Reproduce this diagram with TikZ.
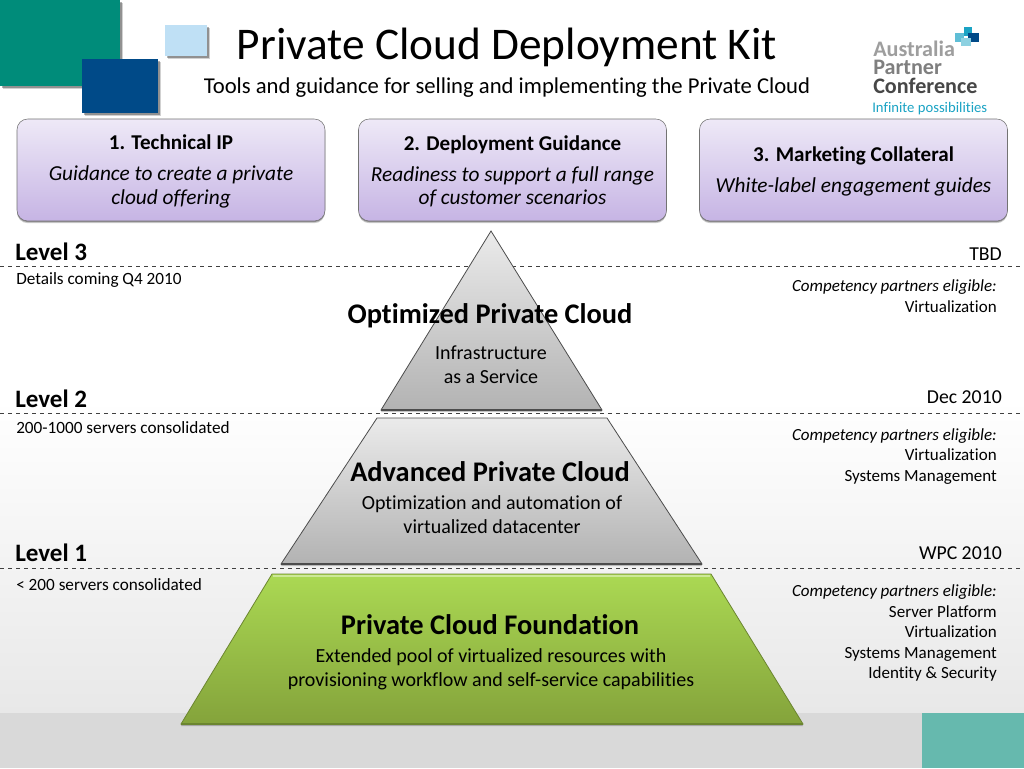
\documentclass[tikz,border=0pt]{standalone}
\usepackage{fontspec}
\setmainfont{Carlito}[Ligatures=NoCommon]
\usepackage{xcolor}
\usetikzlibrary{positioning,shadows}

\definecolor{tealbig}{HTML}{008C7A}
\definecolor{navysq}{HTML}{004A88}
\definecolor{skysq}{HTML}{BFE0F5}
\definecolor{tealcorner}{HTML}{66B9AE}
\definecolor{bandgrey}{HTML}{D9D9D9}
\definecolor{logogrey}{HTML}{7F7F7F}
\definecolor{logoteal}{HTML}{1AA3C4}
\definecolor{boxtop}{HTML}{EEE9F7}
\definecolor{boxbottom}{HTML}{C6B4E4}
\definecolor{greentop}{HTML}{ABD953}
\definecolor{greenbottom}{HTML}{84A33B}
\definecolor{greenedge}{HTML}{6B8530}

\newcommand{\boxhead}[1]{{\fontsize{15.8}{18}\bfseries\rule{0pt}{13pt}#1}\\[6pt]}

\begin{document}
\begin{tikzpicture}[
x=0.75pt, y=-0.75pt,
softshadow/.style={general shadow={shadow xshift=2.2pt, shadow yshift=-2.2pt, opacity=0.18, fill=black}, general shadow={shadow xshift=1.2pt, shadow yshift=-1.2pt, opacity=0.3, fill=black}},
lowshadow/.style={general shadow={shadow yshift=-1.6pt, opacity=0.2, fill=black}, general shadow={shadow yshift=-0.8pt, opacity=0.3, fill=black}},
infobox/.style={draw=black!55, rounded corners=8pt, top color=boxtop, bottom color=boxbottom, lowshadow, align=center, minimum width=231pt, minimum height=76.5pt, inner sep=0pt, font=\fontsize{16}{17.4}\selectfont},
leveltag/.style={anchor=base west, inner sep=0pt, font=\fontsize{18.8}{22}\bfseries\selectfont},
datetag/.style={anchor=base east, inner sep=0pt, font=\fontsize{14.8}{18}\selectfont},
noteleft/.style={anchor=base west, inner sep=0pt, font=\fontsize{12.9}{15}\selectfont},
partners/.style={anchor=north east, inner sep=0pt, align=right, font=\fontsize{12.75}{15.4}\selectfont},
tiername/.style={inner sep=0pt, font=\fontsize{21.3}{25}\bfseries\selectfont},
tierdesc/.style={inner sep=0pt, align=center, font=\fontsize{15}{18}\selectfont},
levelrule/.style={dashed, black!75, line width=0.6pt},
greylayer/.style={draw=black!70, line width=0.6pt, top color=black!8, bottom color=black!30, lowshadow},
greenlayer/.style={draw=greenedge, line width=0.6pt, top color=greentop, bottom color=greenbottom, lowshadow}
]
\useasboundingbox (0,0) rectangle (1024,768);
% background
\fill[white] (0,0) rectangle (1024,768);
\shade[top color=white, bottom color=black!9] (0,400) rectangle (1024,713);
\fill[bandgrey] (0,713) rectangle (1024,768);
\fill[tealcorner] (922,713) rectangle (1024,768);
% corner squares
\fill[tealbig, softshadow] (0,0) rectangle (120,86);
\fill[navysq, softshadow] (82,59) rectangle (158,113);
\fill[skysq, softshadow] (165,25) rectangle (207,56);
% title
\node[inner sep=0pt, font=\fontsize{34}{40}\selectfont] (title) at (507,47) {Private Cloud Deployment Kit};
\node[inner sep=0pt, font=\fontsize{17}{20}\selectfont] (subtitle) at (507,88) {Tools and guidance for selling and implementing the Private Cloud};
% logo
\fill[logoteal!70] (955,33) rectangle (964,42);
\fill[logoteal] (964,27) rectangle (972,36);
\fill[navysq] (968,33) rectangle (979,42);
\fill[logoteal!50] (961,38) rectangle (971,46);
\node[anchor=north west, inner sep=0pt, align=left, font=\fontsize{16.6}{13.9}\bfseries\selectfont] (logoname) at (873,40.5) {\textcolor{black!38}{Australia}\\\textcolor{logogrey}{Partner}\\\textcolor{black!72}{Conference}};
\node[anchor=base west, inner sep=0pt, text=logoteal, font=\fontsize{11}{12}\selectfont] (logotag) at (872,112) {Infinite possibilities};
% top boxes
\node[infobox] (ip) at (171,170) {\boxhead{1. Technical IP}\itshape Guidance to create a private\\\itshape cloud offering};
\node[infobox] (guide) at (512.5,170) {\boxhead{2. Deployment Guidance}\itshape Readiness to support a full range\\\itshape of customer scenarios};
\node[infobox] (collateral) at (853.5,170) {\boxhead{3. Marketing Collateral}\itshape White-label engagement guides};
% level rules
\coordinate (r3a) at (0,266); \coordinate (r3b) at (1024,266);
\coordinate (r2a) at (0,413); \coordinate (r2b) at (1024,413);
\coordinate (r1a) at (0,568); \coordinate (r1b) at (1024,568);
\draw[levelrule] (r3a) -- (r3b);
\draw[levelrule] (r2a) -- (r2b);
\draw[levelrule] (r1a) -- (r1b);
% pyramid
\shade[greylayer] (491,231) -- (602,410) -- (381,410) -- cycle;
\draw[black!70, line width=1.2pt] (381,410) -- (602,410);
\shade[greylayer] (377,418) -- (607,418) -- (702,564) -- (281,564) -- cycle;
\draw[black!70, line width=1.2pt] (281,564) -- (702,564);
\shade[greenlayer] (272,574) -- (711,574) -- (803,724) -- (181,724) -- cycle;
\draw[greenedge, line width=1.2pt] (181,724) -- (803,724);
\draw[greentop!60!white, line width=1.2pt] (273,576) -- (710,576);
% pyramid labels
\node[tiername] (opt) at (490,316) {Optimized Private Cloud};
\node[tierdesc, below=13pt of opt, xshift=0.75pt] (optd) {Infrastructure\\as a Service};
\node[tiername] (adv) at (490,472) {Advanced Private Cloud};
\node[tierdesc] (advd) at (492,514.5) {Optimization and automation of\\virtualized datacenter};
\node[tiername] (fnd) at (490,625) {Private Cloud Foundation};
\node[tierdesc] (fndd) at (491,669) {Extended pool of virtualized resources with\\provisioning workflow and self-service capabilities};
% level texts
\node[leveltag] (l3) at (15,260) {Level 3};
\node[leveltag] (l2) at (15,407) {Level 2};
\node[leveltag] (l1) at (15,561.5) {Level 1};
\node[datetag] (d3) at (1002,260) {TBD};
\node[datetag] (d2) at (1002,403) {Dec 2010};
\node[datetag] (d1) at (1002,559) {WPC 2010};
\node[noteleft] (n3) at (16,284.5) {Details coming Q4 2010};
\node[noteleft] (n2) at (16,433.5) {200-1000 servers consolidated};
\node[noteleft] (n1) at (16,590) {< 200 servers consolidated};
\node[partners] (p3) at (997,279.5) {\itshape Competency partners eligible:\\Virtualization};
\node[partners] (p2) at (997,428) {\itshape Competency partners eligible:\\Virtualization\\Systems Management};
\node[partners] (p1) at (997,584.5) {\itshape Competency partners eligible:\\Server Platform\\Virtualization\\Systems Management\\Identity \& Security};
\end{tikzpicture}
\end{document}
